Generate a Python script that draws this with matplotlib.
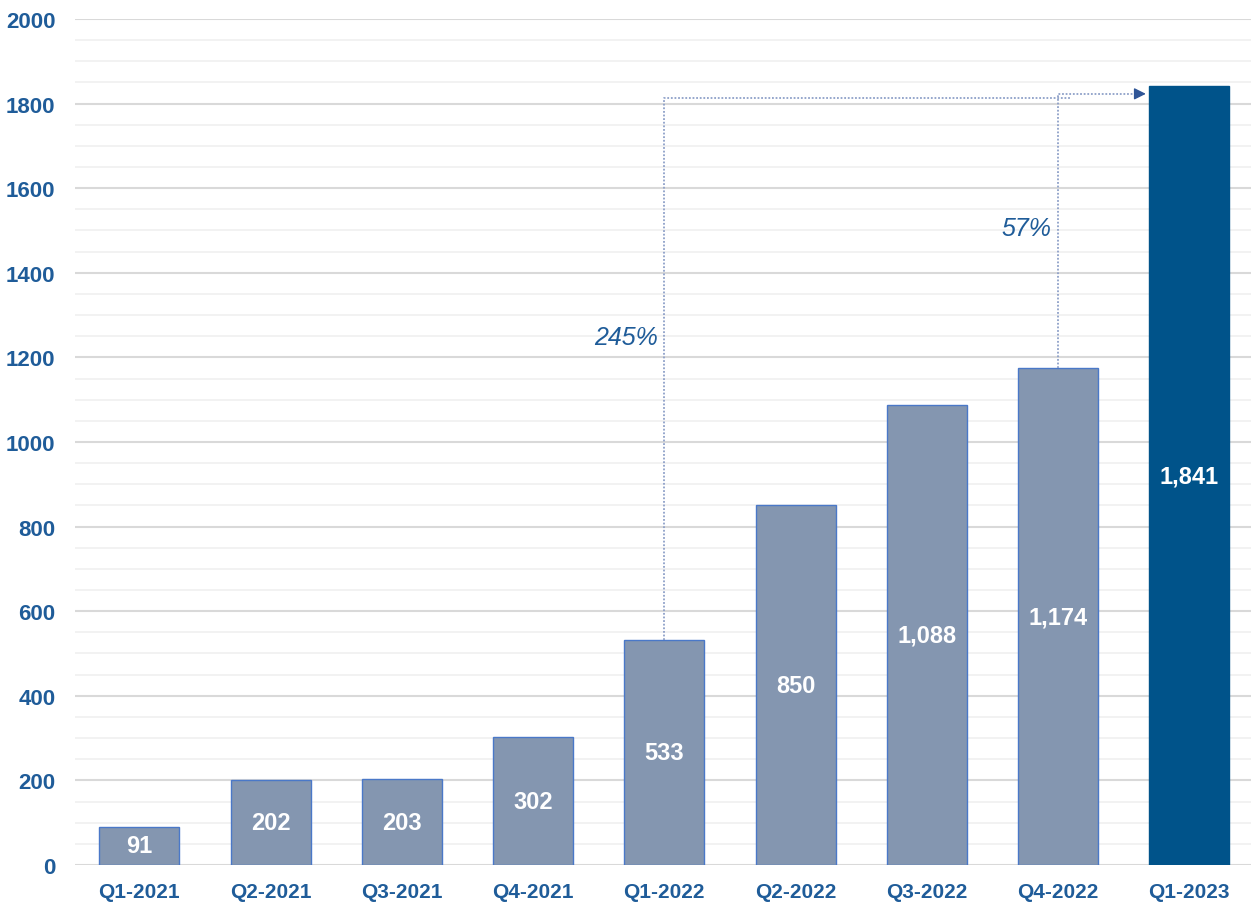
import matplotlib.pyplot as plt
from matplotlib.ticker import MultipleLocator
import numpy as np

quarters = ["Q1-2021", "Q2-2021", "Q3-2021", "Q4-2021", "Q1-2022",
            "Q2-2022", "Q3-2022", "Q4-2022", "Q1-2023"]
values = [91, 202, 203, 302, 533, 850, 1088, 1174, 1841]
labels = ["91", "202", "203", "302", "533", "850", "1,088", "1,174", "1,841"]

FONT = ["Liberation Sans", "DejaVu Sans"]
TXT = "#1f5c99"
GREY = "#8496b0"
DARK = "#00538a"

plt.rcParams["font.family"] = FONT

fig = plt.figure(figsize=(12.51, 9.2), dpi=100)
ax = fig.add_axes([0.06, 0.0587, 0.94, 0.9196])

x = np.arange(len(values))
colors = [GREY] * (len(values) - 1) + [DARK]
edges = ["#4a78c8"] * (len(values) - 1) + [DARK]
ax.bar(x, values, width=0.61, color=colors, edgecolor=edges, linewidth=1.0, zorder=3)

for xi, v, lab in zip(x, values, labels):
    ax.text(xi, v / 2, lab, ha="center", va="center", color="white",
            fontsize=17, fontweight="bold", zorder=4)

ax.set_xlim(-0.49, 8.47)
ax.set_ylim(0, 2000)
ax.yaxis.set_major_locator(MultipleLocator(200))
ax.yaxis.set_minor_locator(MultipleLocator(50))
ax.grid(axis="y", which="major", color="#d9d9d9", linewidth=1.5, zorder=0)
ax.grid(axis="y", which="minor", color="#f0f0f0", linewidth=1.2, zorder=0)
for s in ax.spines.values():
    s.set_visible(False)
ax.tick_params(axis="both", which="both", length=0)
ax.tick_params(axis="y", pad=14, labelsize=16, labelcolor=TXT)
ax.tick_params(axis="x", pad=12, labelsize=15, labelcolor=TXT)
ax.set_xticks(x)
ax.set_xticklabels(quarters, fontweight="bold")
for t in ax.get_yticklabels():
    t.set_fontweight("bold")

# growth connectors
line_kw = dict(color="#8ea0c8", linestyle=(0, (1, 1)), linewidth=1.3, zorder=5)
top1, top2 = 1812, 1823
ax.plot([4, 4, 7.1], [values[4], top1, top1], **line_kw)
ax.plot([7, 7, 7.62], [values[7], top2, top2], **line_kw)
ax.annotate("", xy=(7.69, top2), xytext=(7.6, top2),
            arrowprops=dict(arrowstyle="-|>,head_length=0.7,head_width=0.35",
                            color="#2f5597", lw=1.0), zorder=6)

ax.text(3.95, 1248, "245%", ha="right", va="center", color=TXT,
        fontsize=18, fontstyle="italic", zorder=6)
ax.text(6.95, 1506, "57%", ha="right", va="center", color=TXT,
        fontsize=18, fontstyle="italic", zorder=6)

fig.savefig("out.png", dpi=100)
